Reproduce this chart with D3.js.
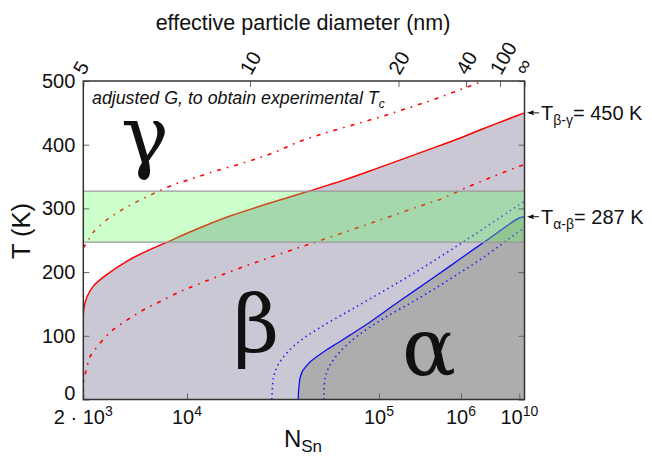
<!DOCTYPE html>
<html>
<head>
<meta charset="utf-8">
<script src="https://cdn.jsdelivr.net/npm/d3@7"></script>
<style>
  body { margin: 0; background: #fff; }
  text { font-family: "Liberation Sans", Arial, sans-serif; fill: #111; }
</style>
</head>
<body>
<svg id="chart" width="652" height="456"></svg>
<script>
// number of Sn atoms -> temperature (K)
var redSolid = [[2000,133],[2020,145],[2084,160],[2261,178],[2569,192],[3546,217],[4815,233],[7188,249],
  [1e4,261],[14670,288],[33860,326],[55530,344],[1e5,364],[337600,393],[1e6,411],[3.05e6,423],[1e10,447],[Infinity,450]];
var redUpper = [[2000,238],[2125,250],[2252,262],[2687,282],[3376,299],[4330,313],[5737,326],[7890,338],
  [1e4,344],[12200,356],[17280,373],[22770,387],[32330,407],[108300,445],[337600,469],[1.105e6,488],[3.456e6,499],[5.27e6,503]];
var redLower = [[2000,12],[2017,31],[2084,49],[2152,65],[2261,75],[2439,87],[2661,99],[2912,109],[3630,126],
  [4686,142],[6191,155],[8408,168],[1e4,174],[10860,180],[12650,191],[17860,212],[26610,232],[41870,251],
  [96020,280],[337600,309],[459400,314],[1.341e6,333],[9.53e6,350],[1e10,366],[Infinity,369]];
var blueSolid = [[30500,0],[30600,12],[30897,25],[31160,33],[31940,43],[33140,50],[35310,59],[38520,67],
  [44000,78],[50690,88],[61770,101],[80800,118],[155600,155],[372300,191],[1.341e6,228],[5.133e6,250],
  [1e10,285],[Infinity,287]];
var blueUpper = [[22470,0],[22655,20],[22850,33],[23290,43],[24160,55],[26610,73],[31160,92],[40250,113],
  [61770,140],[108900,170],[233900,201],[649400,234],[3.9e6,268],[1e10,306],[Infinity,311]];
var blueLower = [[42440,0],[43020,33],[46090,54],[53200,75],[68580,99],[108900,127],[233900,157],[649400,189],
  [3.9e6,223],[1e10,264],[Infinity,269]];

var bandT = [247, 327];
var yTicks = [0, 100, 200, 300, 400, 500];
var nBreaks = [2000, 1e4, 1e5, 1e6, 1e10, Infinity];
var bottomTickN = [2000, 1e4, 1e5, 1e6, 1e10];
var bottomTickBase = ["2 \u00b7 10", "10", "10", "10", "10"];
var bottomTickExp = ["3", "4", "5", "6", "10"];
var topTickD = [5, 10, 20, 40, 100, Infinity];
var topTickLabels = ["5", "10", "20", "40", "100", "\u221e"];

var pL = 83.3, pR = 524.5, pT = 81, pB = 399.5;
var svg = d3.select("#chart");

// the x axis is stretched piecewise, as in the original figure
var uN = function(n) { return Math.pow(n, -1/3); };
var xu = d3.scaleLinear().domain(nBreaks.map(uN)).range([pL, 187, 379, 461, 519.3, pR]);
var xd = d3.scaleLinear().domain(topTickD.map(function(d) { return 1 / d; }))
  .range([pL, 250, 398.5, 466, 500, pR]);
var y = d3.scaleLinear().domain([0, 500]).range([pB, pT]);
var x = function(n) { return xu(uN(n)); };

svg.append("defs").append("clipPath").attr("id", "plot")
  .append("rect").attr("x", pL).attr("y", pT).attr("width", pR - pL).attr("height", pB - pT);

var g = svg.append("g").attr("clip-path", "url(#plot)");

var area = d3.area().x(function(d) { return x(d[0]); }).y0(y(0)).y1(function(d) { return y(d[1]); })
  .curve(d3.curveCatmullRom);
var line = d3.line().x(function(d) { return x(d[0]); }).y(function(d) { return y(d[1]); })
  .curve(d3.curveCatmullRom);

g.append("path").datum(redSolid).attr("d", area).attr("fill", "#c9c8d4");
g.append("path").datum(blueSolid).attr("d", area).attr("fill", "#adadad");

g.append("path").datum(redUpper).attr("d", line).attr("fill", "none")
  .attr("stroke", "#f00").attr("stroke-width", 1.6).attr("stroke-dasharray", "4,6,1.6,6");
g.append("path").datum(redLower).attr("d", line).attr("fill", "none")
  .attr("stroke", "#f00").attr("stroke-width", 1.6).attr("stroke-dasharray", "4,6,1.6,6");
g.append("path").datum(redSolid).attr("d", line).attr("fill", "none")
  .attr("stroke", "#f00").attr("stroke-width", 1.5);
g.selectAll(".bdot").data([blueUpper, blueLower]).enter().append("path")
  .attr("d", line).attr("fill", "none")
  .attr("stroke", "#22f").attr("stroke-width", 1.6).attr("stroke-dasharray", "1.5,3.5");
g.append("path").datum(blueSolid).attr("d", line).attr("fill", "none")
  .attr("stroke", "#11e").attr("stroke-width", 1.3);

// green band of experimental temperatures
g.append("rect").attr("x", pL).attr("width", pR - pL)
  .attr("y", y(bandT[1])).attr("height", y(bandT[0]) - y(bandT[1]))
  .attr("fill", "rgb(85,255,85)").attr("fill-opacity", 0.3);
g.selectAll(".bandEdge").data(bandT).enter().append("line")
  .attr("x1", pL).attr("x2", pR).attr("y1", y).attr("y2", y)
  .attr("stroke", "#999").attr("stroke-width", 1.2);

// phase labels
var greek = [["\u03b3", 145, 163], ["\u03b2", 256, 352], ["\u03b1", 429, 375]];
svg.selectAll(".phase").data(greek).enter().append("text")
  .attr("x", function(d) { return d[1]; }).attr("y", function(d) { return d[2]; })
  .attr("text-anchor", "middle").style("font-family", "'DejaVu Serif', serif")
  .style("font-size", "80px").text(function(d) { return d[0]; });

// axes
var yl = svg.append("g").attr("transform", "translate(" + pL + ",0)")
  .call(d3.axisLeft(y).tickValues(yTicks).tickSize(-6).tickPadding(8));
var yr = svg.append("g").attr("transform", "translate(" + pR + ",0)")
  .call(d3.axisRight(y).tickValues(yTicks).tickSize(-6).tickFormat(""));
var xb = svg.append("g").attr("transform", "translate(0," + pB + ")")
  .call(d3.axisBottom(xu).tickValues(bottomTickN.map(uN)).tickSize(-6).tickFormat(""));
var xt = svg.append("g").attr("transform", "translate(0," + pT + ")")
  .call(d3.axisTop(xd).tickValues(topTickD.map(function(d) { return 1 / d; })).tickSize(-6).tickFormat(""));
[yl, yr, xb, xt].forEach(function(a) {
  a.select(".domain").remove();
  a.selectAll(".tick line").attr("stroke", "#666");
});
yl.selectAll(".tick text").style("font-size", "20px").style("font-family", "'Liberation Sans', Arial, sans-serif")
  .attr("fill", "#111")
  .attr("y", function(d) { return d === 0 ? -6 : 0; });

svg.append("rect").attr("x", pL).attr("y", pT).attr("width", pR - pL).attr("height", pB - pT)
  .attr("fill", "none").attr("stroke", "#333").attr("stroke-width", 1.5);

// bottom tick labels with exponents
var bl = svg.selectAll(".blab").data(bottomTickN).enter().append("text")
  .attr("x", function(d) { return x(d); }).attr("y", 424)
  .attr("text-anchor", "middle").style("font-size", "20px");
bl.append("tspan").text(function(d, i) { return bottomTickBase[i]; });
bl.append("tspan").attr("dy", -8).style("font-size", "14px").text(function(d, i) { return bottomTickExp[i]; });

// top tick labels, rotated
svg.selectAll(".tlab").data(topTickD).enter().append("text")
  .attr("transform", function(d) { return "translate(" + (xd(1 / d) + 1) + ",76) rotate(-60)"; })
  .style("font-size", "20px").text(function(d, i) { return topTickLabels[i]; });

// axis titles
svg.append("text").attr("x", 303).attr("y", 30).attr("text-anchor", "middle").style("font-size", "21.5px")
  .text("effective particle diameter (nm)");
svg.append("text").attr("transform", "translate(30,231) rotate(-90)").attr("text-anchor", "middle")
  .style("font-size", "25.5px").text("T (K)");
var nl = svg.append("text").attr("x", 303).attr("y", 447).attr("text-anchor", "middle").style("font-size", "24px");
nl.append("tspan").text("N");
nl.append("tspan").attr("dy", 5).style("font-size", "17px").text("Sn");

var note = svg.append("text").attr("x", 92).attr("y", 104).style("font-size", "17.8px").style("font-style", "italic");
note.append("tspan").text("adjusted G, to obtain experimental T");
note.append("tspan").attr("dy", 4).style("font-size", "12px").text("c");

// bulk transition temperatures on the right
var bulk = [[450, "\u03b2-\u03b3", "= 450 K"], [287, "\u03b1-\u03b2", "= 287 K"]];
var bg = svg.selectAll(".bulk").data(bulk).enter().append("g");
bg.append("line").attr("x1", 539).attr("x2", 529).attr("y1", function(d) { return y(d[0]); })
  .attr("y2", function(d) { return y(d[0]); }).attr("stroke", "#111").attr("stroke-width", 1);
bg.append("path").attr("d", function(d) {
  var yy = y(d[0]);
  return "M527," + yy + "L534," + (yy - 2.5) + "L533," + yy + "L534," + (yy + 2.5) + "Z";
}).attr("fill", "#111");
var bt = bg.append("text").attr("x", 541).attr("y", function(d) { return y(d[0]) + 7; }).style("font-size", "20px");
bt.append("tspan").text("T");
bt.append("tspan").attr("dy", 5).style("font-size", "14px").text(function(d) { return d[1]; });
bt.append("tspan").attr("dy", -5).text(function(d) { return d[2]; });
</script>
</body>
</html>
